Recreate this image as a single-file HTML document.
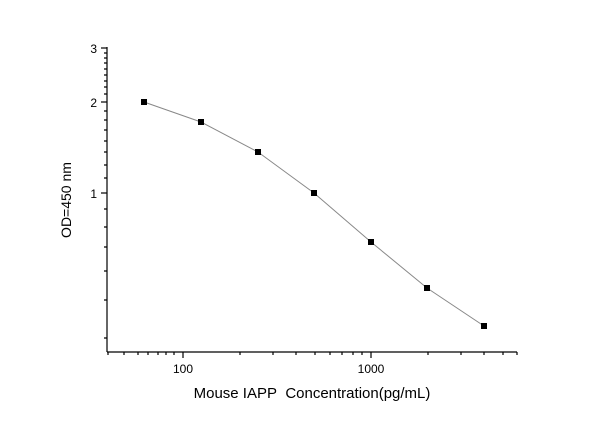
<!DOCTYPE html>
<html><head><style>body{margin:0;background:#fff}svg{display:block}text{font-family:"Liberation Sans",Arial,sans-serif;fill:#000}</style></head>
<body>
<svg width="600" height="421" viewBox="0 0 600 421" xmlns="http://www.w3.org/2000/svg">
<g stroke="#000" stroke-width="1.2" fill="none">
<line x1="107" y1="47" x2="107" y2="352"/>
<line x1="107" y1="352" x2="517" y2="352"/>
<line x1="101" y1="48" x2="107" y2="48"/>
<line x1="101" y1="102" x2="107" y2="102"/>
<line x1="101" y1="193" x2="107" y2="193"/>
<path d="M104 53H107M104 58H107M104 63H107M104 69H107M104 75H107M104 81H107M104 87H107M104 94H107M104 111H107M104 120H107M104 130H107M104 141H107M104 152H107M104 165H107M104 178H107M104 209H107M104 227H107M104 247H107M104 271H107M104 300H107M104 338H107"/>
<line x1="183" y1="352" x2="183" y2="358"/>
<line x1="371" y1="352" x2="371" y2="358"/>
<path d="M108 352V355M124 352V355M138 352V355M148 352V355M158 352V355M166 352V355M174 352V355M240 352V355M273 352V355M296 352V355M315 352V355M330 352V355M342 352V355M353 352V355M362 352V355M428 352V355M461 352V355M484 352V355M503 352V355M517 352V355"/>
</g>
<polyline points="144,102 201,122 258,152 314,193 371,242 427,288 484,326" fill="none" stroke="#888" stroke-width="1"/>
<g fill="#000">
<rect x="141" y="99" width="6" height="6"/><rect x="198" y="119" width="6" height="6"/><rect x="255" y="149" width="6" height="6"/><rect x="311" y="190" width="6" height="6"/><rect x="368" y="239" width="6" height="6"/><rect x="424" y="285" width="6" height="6"/><rect x="481" y="323" width="6" height="6"/>
</g>
<g font-size="12" text-anchor="end">
<text x="97" y="53">3</text><text x="97" y="107">2</text><text x="97" y="198">1</text>
</g>
<g font-size="12" text-anchor="middle">
<text x="183" y="373">100</text><text x="371" y="373">1000</text>
</g>
<text x="312" y="398" font-size="15" text-anchor="middle" xml:space="preserve">Mouse IAPP&#160; Concentration(pg/mL)</text>
<text transform="translate(71,200) rotate(-90)" font-size="14" text-anchor="middle">OD=450 nm</text>
</svg>
</body></html>
